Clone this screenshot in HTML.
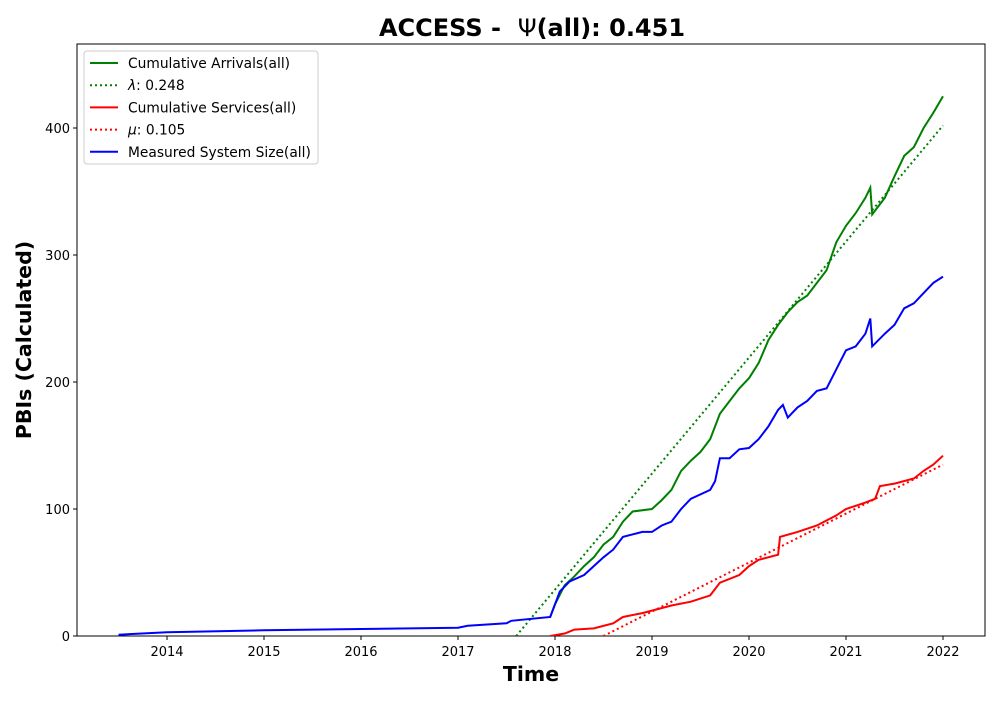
<!DOCTYPE html>
<html><head><meta charset="utf-8"><style>
body{margin:0;background:#fff;font-family:"DejaVu Sans","Liberation Sans",sans-serif}
svg text{font-family:"DejaVu Sans","Liberation Sans",sans-serif}
</style></head><body>
<svg id="chart" width="1000" height="700" xmlns="http://www.w3.org/2000/svg"></svg>
<script>
const blueX=[2013.5,2014,2015,2016,2017,2017.1,2017.5,2017.55,2017.95,2018.0,2018.05,2018.15,2018.3,2018.4,2018.5,2018.6,2018.7,2018.9,2019.0,2019.1,2019.2,2019.3,2019.4,2019.6,2019.65,2019.7,2019.8,2019.9,2020.0,2020.1,2020.2,2020.3,2020.35,2020.4,2020.5,2020.6,2020.7,2020.8,2020.9,2021.0,2021.1,2021.2,2021.25,2021.27,2021.4,2021.5,2021.6,2021.7,2021.8,2021.9,2022.0];
const blueY=[1,3,4.5,5.5,6.5,8,10,12,15,25,35,43,48,55,62,68,78,82,82,87,90,100,108,115,122,140,140,147,148,155,165,178,182,172,180,185,193,195,210,225,228,238,250,228,238,245,258,262,270,278,283];
const greenX=[2017.95,2018.0,2018.1,2018.2,2018.3,2018.4,2018.5,2018.6,2018.7,2018.8,2019.0,2019.1,2019.2,2019.3,2019.4,2019.5,2019.6,2019.7,2019.8,2019.9,2020.0,2020.1,2020.2,2020.3,2020.4,2020.5,2020.6,2020.7,2020.8,2020.9,2021.0,2021.1,2021.2,2021.25,2021.27,2021.4,2021.5,2021.6,2021.7,2021.8,2021.9,2022.0];
const greenY=[15,25,40,47,55,62,72,78,90,98,100,107,115,130,138,145,155,175,185,195,203,215,233,245,255,263,268,278,288,310,323,333,345,353,332,345,362,378,385,400,412,425];
const redX=[2017.95,2018.1,2018.2,2018.4,2018.6,2018.7,2018.9,2019.0,2019.2,2019.4,2019.6,2019.7,2019.9,2020.0,2020.1,2020.3,2020.32,2020.5,2020.7,2020.9,2021.0,2021.2,2021.3,2021.35,2021.5,2021.7,2021.8,2021.9,2022.0];
const redY=[0,2,5,6,10,15,18,20,24,27,32,42,48,55,60,64,78,82,87,95,100,105,108,118,120,124,130,135,142];
const lambdaX=[2017.6,2022.0];
const lambdaY=[0,402];
const muX=[2018.5,2022.0];
const muY=[0,135];
const xTicks=[2014,2015,2016,2017,2018,2019,2020,2021,2022];
const yTicks=[0,100,200,300,400];

const L=77,R=985,T=44,B=636;
const sx=v=>167+(v-2014)*97;
const sy=v=>B-v*1.27;
const svg=document.getElementById('chart');
const NS='http://www.w3.org/2000/svg';
function mk(tag,at,parent){const e=document.createElementNS(NS,tag);for(const k in at)e.setAttribute(k,at[k]);(parent||svg).appendChild(e);return e;}

const title=mk('text',{x:532,y:36,'text-anchor':'middle','font-size':24,'font-weight':'bold'});


const t1=mk('tspan',{},title);t1.textContent='ACCESS -\u00a0 ';
const t2=mk('tspan',{'font-weight':'normal'},title);t2.textContent='Ψ';
const t3=mk('tspan',{},title);t3.textContent='(all): 0.451';

const frame=mk('rect',{x:L,y:T,width:R-L,height:B-T,fill:'none',stroke:'#000','stroke-width':1});



xTicks.forEach(t=>{
  const l=mk('line',{x1:sx(t),x2:sx(t),y1:B,y2:B+4,stroke:'#000'});
  
  
  const tx=mk('text',{x:sx(t),y:B+20,'text-anchor':'middle','font-size':13});
  
  
  tx.textContent=t;
});
yTicks.forEach(t=>{
  const l=mk('line',{x1:L-4,x2:L,y1:sy(t),y2:sy(t),stroke:'#000'});
  
  
  const tx=mk('text',{x:L-7,y:sy(t)+5,'text-anchor':'end','font-size':13});
  
  
  tx.textContent=t;
});
const xl=mk('text',{x:531,y:681,'text-anchor':'middle','font-size':20.5,'font-weight':'bold'});


xl.textContent='Time';
const yl=mk('text',{x:31,y:340,'text-anchor':'middle','font-size':20.5,'font-weight':'bold',transform:'rotate(-90 31 340)'});


yl.textContent='PBIs (Calculated)';

const clip=mk('clipPath',{id:'pc'});
mk('rect',{x:L,y:T,width:R-L,height:B-T},clip);
function line(xs,ys,color,dash,name){
  const d=xs.map((x,i)=>(i?'L':'M')+sx(x).toFixed(1)+','+sy(ys[i]).toFixed(1)).join('');
  const p=mk('path',{d:d,fill:'none',stroke:color,'stroke-width':2,'clip-path':'url(#pc)'});
  if(dash)p.setAttribute('stroke-dasharray',dash);
  
  
}
line(lambdaX,lambdaY,'green','2,3','lambda-fit-line');
line(greenX,greenY,'green',null,'cumulative-arrivals-line');
line(muX,muY,'red','2,3','mu-fit-line');
line(redX,redY,'red',null,'cumulative-services-line');
line(blueX,blueY,'blue',null,'system-size-line');

const lg=mk('g',{});


mk('rect',{x:84,y:51,width:234,height:113,rx:3,fill:'#fff',stroke:'#ccc'},lg);
const items=[['Cumulative Arrivals(all)','green',null,''],['λ','green','2,3',': 0.248'],['Cumulative Services(all)','red',null,''],['μ','red','2,3',': 0.105'],['Measured System Size(all)','blue',null,'']];
items.forEach((it,i)=>{
  const y=63+i*22.2;
  const g=mk('g',{},lg);
  
  
  const l=mk('line',{x1:90,x2:118,y1:y,y2:y,stroke:it[1],'stroke-width':2},g);
  if(it[2])l.setAttribute('stroke-dasharray',it[2]);
  const t=mk('text',{x:128,y:y+5,'font-size':13.8},g);
  if(it[3]){
    const s1=mk('tspan',{'font-style':'italic'},t);s1.textContent=it[0];
    const s2=mk('tspan',{},t);s2.textContent=it[3];
  } else t.textContent=it[0];
});
</script>
</body></html>
